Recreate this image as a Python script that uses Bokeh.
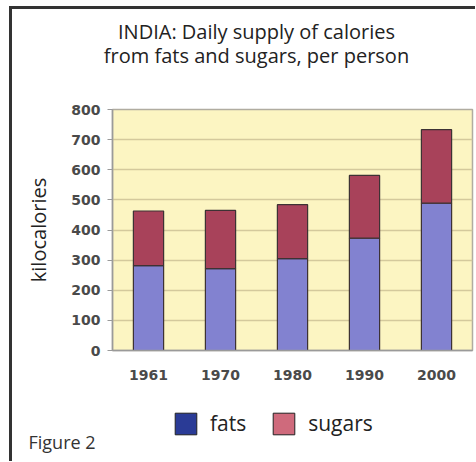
from bokeh.plotting import figure
from bokeh.layouts import column
from bokeh.models import (Legend, LegendItem, ColumnDataSource, Label,
                          FactorRange, Range1d, FixedTicker)
from bokeh.embed import file_html
from bokeh.resources import INLINE

years = ["1961", "1970", "1980", "1990", "2000"]
fats = [282, 272, 305, 373, 489]
sugars = [181, 193, 179, 208, 244]
y_ticks = [0, 100, 200, 300, 400, 500, 600, 700, 800]

title_lines = ["INDIA: Daily supply of calories", "from fats and sugars, per person"]
y_label = "kilocalories"
footnote = "Figure 2"
legend_labels = ["fats", "sugars"]

FONT = "Open Sans"
W = 463


def blank(h):
    f = figure(width=W, height=h, x_range=Range1d(0, W), y_range=Range1d(0, h),
               output_backend="svg", toolbar_location=None, title=None,
               x_axis_location=None, y_axis_location=None,
               min_border=0, min_border_left=0, min_border_right=0,
               min_border_top=0, min_border_bottom=0, frame_align=False)
    f.grid.visible = False
    f.outline_line_color = None
    f.background_fill_color = "white"
    f.border_fill_color = "white"
    return f


# ---- title block (page y 9..100) ----
TH = 91
p_top = blank(TH)
for txt, base in zip(title_lines, [31, 55]):
    p_top.add_layout(Label(x=256 - 12, y=100 - base, text=txt, text_align="center",
                           text_baseline="alphabetic", text_font=FONT,
                           text_font_size="20px", text_color="#222222"))

# ---- main chart (page y 100..385) ----
src = ColumnDataSource(dict(year=years, fats=fats, sugars=sugars))
p = figure(x_range=FactorRange(*years), y_range=Range1d(0, 800), title=None,
           width=W, height=285, output_backend="svg", toolbar_location=None,
           min_border_left=100, min_border_right=3, min_border_top=9,
           min_border_bottom=35, frame_align=False)
p.background_fill_color = "#fcf5c2"
p.border_fill_color = "white"
p.outline_line_color = "#b0aca0"
p.outline_line_width = 1.5

p.vbar_stack(["fats", "sugars"], x="year", width=0.42, source=src,
             fill_color=["#8282d0", "#a8425a"], line_color="#3d3234", line_width=1.2)

p.yaxis.ticker = FixedTicker(ticks=y_ticks)
p.yaxis.axis_line_color = "#9a9a9a"
p.yaxis.axis_line_width = 1.5
p.yaxis.major_tick_out = 5
p.yaxis.major_tick_in = 0
p.yaxis.major_tick_line_color = "#9a9a9a"
p.yaxis.minor_tick_line_color = None
p.yaxis.major_label_standoff = 7
p.yaxis.axis_label = y_label
p.yaxis.axis_label_text_font = FONT
p.yaxis.axis_label_text_font_size = "20px"
p.yaxis.axis_label_text_font_style = "normal"
p.yaxis.axis_label_text_color = "#222222"
p.yaxis.axis_label_standoff = 16
p.xaxis.axis_line_color = "#9a9a9a"
p.xaxis.axis_line_width = 1.5
p.xaxis.major_tick_out = 0
p.xaxis.major_tick_in = 0
p.xaxis.major_label_standoff = 19
for ax in (p.xaxis, p.yaxis):
    ax.major_label_text_font = "DejaVu Sans"
    ax.major_label_text_font_style = "bold"
    ax.major_label_text_font_size = "14px"
    ax.major_label_text_color = "#4a4a4a"

p.xgrid.visible = False
p.ygrid.ticker = FixedTicker(ticks=y_ticks)
p.ygrid.grid_line_color = "#d4c99c"
p.ygrid.grid_line_width = 1.5

# ---- legend + footnote block (page y 385..461) ----
BH = 76
p_bot = blank(BH)
# legend-only swatch renderers, placed outside the visible range
swatch = ColumnDataSource(dict(x=[-50], top=[-10], bottom=[-20]))
r_f = p_bot.vbar(x="x", top="top", bottom="bottom", width=5, source=swatch,
                 fill_color="#2a3b96", line_color="#222222", line_width=1)
r_s = p_bot.vbar(x="x", top="top", bottom="bottom", width=5, source=swatch,
                 fill_color="#cf6a7c", line_color="#222222", line_width=1)
legend = Legend(items=[LegendItem(label=legend_labels[0], renderers=[r_f]),
                       LegendItem(label=legend_labels[1], renderers=[r_s])],
                orientation="horizontal", location=(172 - 12, 461 - 437),
                glyph_width=27, glyph_height=27, label_standoff=11, spacing=24,
                padding=0, margin=0, border_line_alpha=0, background_fill_alpha=0,
                label_text_font=FONT, label_text_font_size="21px",
                label_text_color="#222222", label_height=27)
p_bot.add_layout(legend)
p_bot.add_layout(Label(x=28 - 12, y=461 - 441, text=footnote, text_align="left",
                       text_baseline="alphabetic", text_font=FONT,
                       text_font_size="18px", text_color="#333333"))

layout = column(p_top, p, p_bot, spacing=0)
layout.styles = {"border-left": "3px solid #333333", "border-top": "3px solid #333333",
                 "margin-left": "9px", "margin-top": "6px"}

open("out.html", "w").write(file_html(layout, INLINE))
